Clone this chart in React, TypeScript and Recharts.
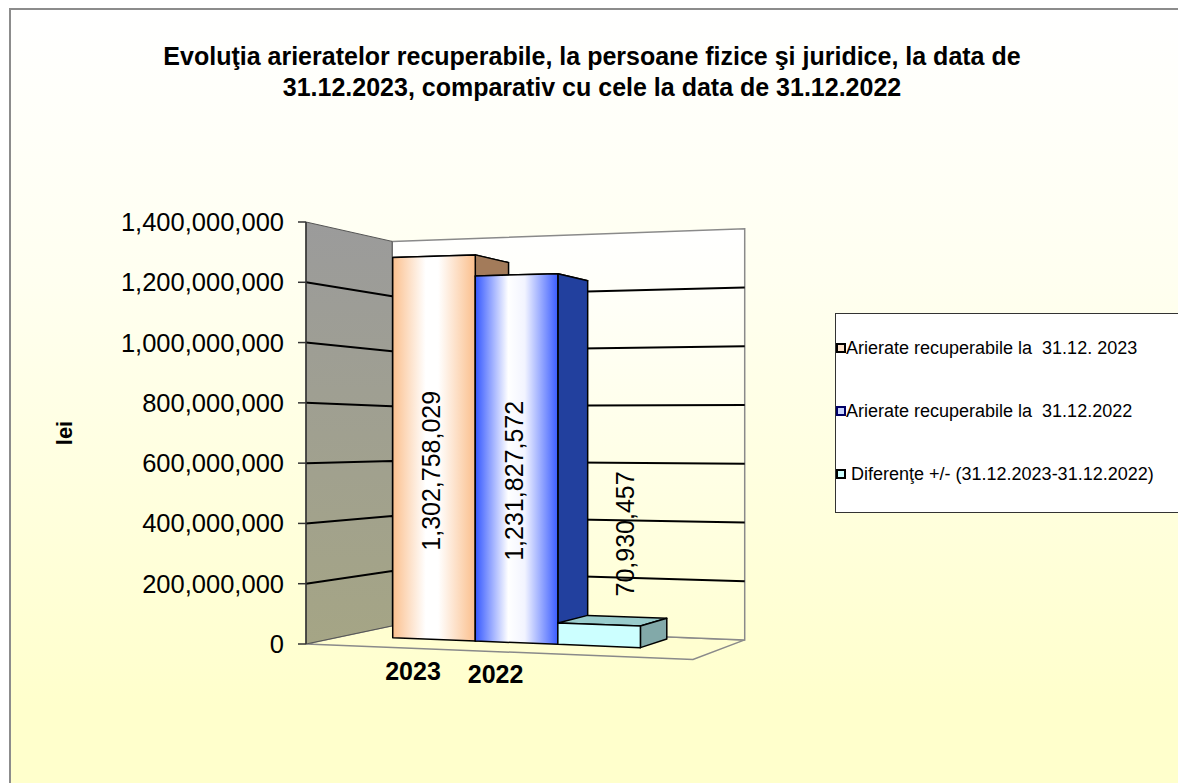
import React from "react";
import { Bar, BarChart, CartesianGrid, LabelList, Legend, XAxis, YAxis } from "recharts";

const categories = ["31.12"];
const seriesNames = [
  "Arierate recuperabile la  31.12. 2023",
  "Arierate recuperabile la  31.12.2022",
  " Diferenţe +/- (31.12.2023-31.12.2022)",
];
const arierate2023 = [1302758029];
const arierate2022 = [1231827572];
const diferente = [70930457];
const yearLabels = ["2023", "2022"];
const yTicks = [0, 200000000, 400000000, 600000000, 800000000, 1000000000, 1200000000, 1400000000];

const data = categories.map((name, i) => ({
  name,
  a2023: arierate2023[i],
  a2022: arierate2022[i],
  diff: diferente[i],
}));

const FONT = '"Liberation Sans", Arial, sans-serif';

// fake 3d: front plane tilts a little, depth runs to a vanishing point on the right
const VP_X = 1274;
const VP_Y = 440;
const HORIZON = 421;
const TILT = 0.000179;
const FRONT_X = 306;
const WALL_D = 0.089;
const BAR_D0 = 0.04;
const BAR_D1 = 0.08;
const FLOOR_EXTRA = 29;

function proj(fx: number, fy: number, d: number): [number, number] {
  const s = 1 + TILT * (fx - FRONT_X);
  const py = HORIZON + (fy - HORIZON) * s;
  return [fx + d * (VP_X - fx), py + d * (VP_Y - py)];
}

const pts = (list: [number, number][]) => list.map((p) => p.join(",")).join(" ");

function Walls({ x, y, width, height }: any) {
  const l = x;
  const r = x + width + FLOOR_EXTRA;
  const t = y;
  const b = y + height;
  const leftWall = [proj(l, t, 0), proj(l, t, WALL_D), proj(l, b, WALL_D), proj(l, b, 0)];
  const backWall = [proj(l, t, WALL_D), proj(r, t, WALL_D), proj(r, b, WALL_D), proj(l, b, WALL_D)];
  const floor = [proj(l, b, 0), proj(r, b, 0), proj(r, b, WALL_D), proj(l, b, WALL_D)];
  return (
    <g>
      <defs>
        <linearGradient id="leftWallFill" x1="0" y1="0" x2="0" y2="1">
          <stop offset="0%" stopColor="#9b9b9b" />
          <stop offset="100%" stopColor="#a5a585" />
        </linearGradient>
        <linearGradient id="backWallFill" x1="0" y1="0" x2="0" y2="1">
          <stop offset="0%" stopColor="#ffffff" />
          <stop offset="100%" stopColor="#ffffd4" />
        </linearGradient>
      </defs>
      <polygon points={pts(floor)} fill="#fffed0" stroke="#8a8a8a" strokeWidth={1.5} />
      <polygon points={pts(backWall)} fill="url(#backWallFill)" stroke="#8a8a8a" strokeWidth={1.5} />
      <polygon points={pts(leftWall)} fill="url(#leftWallFill)" stroke="#555" strokeWidth={1} />
    </g>
  );
}

const renderGridLine = (props: any) => {
  const { x, y, width, height, y1, index } = props;
  const l = x;
  const r = x + width + FLOOR_EXTRA;
  const edge = Math.abs(y1 - y) < 0.5 || Math.abs(y1 - (y + height)) < 0.5;
  const a = proj(l, y1, 0);
  const b = proj(l, y1, WALL_D);
  const c = proj(r, y1, WALL_D);
  return (
    <g key={`grid-${index}`}>
      {index === 0 && <Walls x={x} y={y} width={width} height={height} />}
      {!edge && <polyline points={pts([a, b, c])} fill="none" stroke="#000" strokeWidth={2} />}
    </g>
  );
};

type BoxStyle = {
  id: string;
  stops: [string, string][];
  top: string;
  side: string;
};

const makeBox = (st: BoxStyle) => (props: any) => {
  const { x, y, width, height } = props;
  const x2 = x + width;
  const y2 = y + height;
  const front = [proj(x, y, BAR_D0), proj(x2, y, BAR_D0), proj(x2, y2, BAR_D0), proj(x, y2, BAR_D0)];
  const side = [proj(x2, y, BAR_D0), proj(x2, y, BAR_D1), proj(x2, y2, BAR_D1), proj(x2, y2, BAR_D0)];
  const top = [proj(x, y, BAR_D0), proj(x2, y, BAR_D0), proj(x2, y, BAR_D1), proj(x, y, BAR_D1)];
  return (
    <g>
      <defs>
        <linearGradient id={st.id} x1="0" y1="0" x2="1" y2="0">
          {st.stops.map(([o, c]) => (
            <stop key={o} offset={o} stopColor={c} />
          ))}
        </linearGradient>
      </defs>
      <polygon points={pts(top)} fill={st.top} stroke="#000" strokeWidth={1.5} strokeLinejoin="round" />
      <polygon points={pts(side)} fill={st.side} stroke="#000" strokeWidth={1.5} strokeLinejoin="round" />
      <polygon points={pts(front)} fill={`url(#${st.id})`} stroke="#000" strokeWidth={1.5} strokeLinejoin="round" />
    </g>
  );
};

const box2023 = makeBox({
  id: "g2023",
  stops: [["0%", "#fbc08e"], ["40%", "#ffffff"], ["55%", "#ffffff"], ["100%", "#fbbf8c"]],
  top: "#f4c4a0",
  side: "#a37b5a",
});
const box2022 = makeBox({
  id: "g2022",
  stops: [["0%", "#3558ff"], ["40%", "#ffffff"], ["60%", "#f2f4ff"], ["100%", "#3a5cff"]],
  top: "#6f86e0",
  side: "#22409e",
});
const boxDiff = makeBox({
  id: "gdiff",
  stops: [["0%", "#ccffff"], ["100%", "#ccffff"]],
  top: "#99cccc",
  side: "#82a9a9",
});

const fmt = (v: number) => v.toLocaleString("en-US");

const insideLabel = (props: any) => {
  const { x, y, width, height, value } = props;
  const [cx, cyTop] = proj(x + width / 2, y, BAR_D0);
  const [, cyBot] = proj(x + width / 2, y + height, BAR_D0);
  const cy = cyBot - (cyBot - cyTop) * 0.44;
  const lx = cx - 3;
  return (
    <text
      x={lx}
      y={cy}
      transform={`rotate(-90 ${lx} ${cy})`}
      textAnchor="middle"
      dominantBaseline="central"
      fontFamily={FONT}
      fontSize={25}
      fill="#000"
    >
      {fmt(value)}
    </text>
  );
};

const aboveLabel = (props: any) => {
  const { x, y, width, value } = props;
  const [cx, cy] = proj(x + width / 2, y, BAR_D0);
  const lx = cx + 26;
  const ly = cy - 28;
  return (
    <text
      x={lx}
      y={ly}
      transform={`rotate(-90 ${lx} ${ly})`}
      textAnchor="start"
      dominantBaseline="central"
      fontFamily={FONT}
      fontSize={25}
      fill="#000"
    >
      {fmt(value)}
    </text>
  );
};

const yearLabel = (label: string, dy: number) => (props: any) => {
  const { x, y, width, height } = props;
  const [cx, cy] = proj(x + width / 2, y + height, BAR_D0);
  return (
    <text x={cx - 21} y={cy + dy} textAnchor="middle" fontFamily={FONT} fontWeight="bold" fontSize={25} fill="#000">
      {label}
    </text>
  );
};

const legendMarkers = ["#fde2c8", "#c8d4ff", "#ccffff"];
const legendMarkerBorders = ["#000", "#000066", "#000"];

const renderLegend = (props: any) => {
  const payload: any[] = props.payload || [];
  const items = seriesNames.map((name) => payload.find((p) => p.value === name) || { value: name });
  return (
    <div
      style={{
        position: "relative",
        boxSizing: "border-box",
        width: 360,
        height: 200,
        background: "#ffffff",
        border: "1.5px solid #333",
        fontFamily: FONT,
        fontSize: 18,
        color: "#000",
      }}
    >
      {items.map((entry: any, i: number) => (
        <div
          key={entry.value}
          style={{
            position: "absolute",
            left: 0,
            top: 23 + i * 63,
            height: 22,
            display: "flex",
            alignItems: "center",
            whiteSpace: "pre",
          }}
        >
          <span
            style={{
              display: "inline-block",
              boxSizing: "border-box",
              width: 10,
              height: 10,
              border: `2px solid ${legendMarkerBorders[i]}`,
              background: legendMarkers[i],
              marginRight: 0,
            }}
          />
          {entry.value}
        </div>
      ))}
    </div>
  );
};

export default function App() {
  return (
    <div style={{ position: "absolute", left: 0, top: 0, width: 1178, height: 783, overflow: "hidden", fontFamily: FONT }}>
      <div
        style={{
          position: "absolute",
          left: 9,
          top: 8,
          width: 1300,
          height: 775,
          borderLeft: "2px solid #8c8c8c",
          borderTop: "2px solid #8c8c8c",
          background: "linear-gradient(#ffffff 0%, #fffff0 35%, #ffffcc 90%)",
        }}
      />
      <div
        style={{
          position: "absolute",
          left: 0,
          top: 41,
          width: 1184,
          textAlign: "center",
          fontWeight: "bold",
          fontSize: 25,
          lineHeight: "31px",
          color: "#000",
        }}
      >
        Evoluţia arieratelor recuperabile, la persoane fizice şi juridice, la data de
        <br />
        31.12.2023, comparativ cu cele la data de 31.12.2022
      </div>
      <div style={{ position: "absolute", left: 0, top: 0 }}>
        <BarChart
          width={1178}
          height={783}
          data={data}
          margin={{ top: 222, right: 514, bottom: 139, left: 0 }}
          barGap={0}
          barSize={86}
        >
          <CartesianGrid vertical={false} horizontal={renderGridLine} />
          <XAxis dataKey="name" hide />
          <YAxis
            width={306}
            domain={[0, 1400000000]}
            ticks={yTicks}
            interval={0}
            tickFormatter={fmt}
            tickSize={8}
            tickMargin={14}
            tick={{ fontSize: 25.5, fill: "#000", fontFamily: FONT }}
            axisLine={{ stroke: "#333", strokeWidth: 1.5 }}
            tickLine={{ stroke: "#333", strokeWidth: 1.5 }}
            label={(p: any) => {
              const vb = p.viewBox || {};
              const cx = 64;
              const cy = (vb.y || 222) + (vb.height || 422) / 2;
              return (
                <text
                  x={cx}
                  y={cy}
                  transform={`rotate(-90 ${cx} ${cy})`}
                  textAnchor="middle"
                  dominantBaseline="central"
                  fontFamily={FONT}
                  fontWeight="bold"
                  fontSize={22}
                  fill="#000"
                >
                  lei
                </text>
              );
            }}
          />
          <Legend
            layout="horizontal"
            verticalAlign="middle"
            align="center"
            content={renderLegend}
            wrapperStyle={{ left: 835, top: 313, width: 360, height: 200 }}
          />
          <Bar dataKey="a2023" name={seriesNames[0]} fill={legendMarkers[0]} shape={box2023} isAnimationActive={false}>
            <LabelList dataKey="a2023" content={insideLabel} />
            <LabelList dataKey="a2023" content={yearLabel(yearLabels[0], 41)} />
          </Bar>
          <Bar dataKey="a2022" name={seriesNames[1]} fill={legendMarkers[1]} shape={box2022} isAnimationActive={false}>
            <LabelList dataKey="a2022" content={insideLabel} />
            <LabelList dataKey="a2022" content={yearLabel(yearLabels[1], 40)} />
          </Bar>
          <Bar dataKey="diff" name={seriesNames[2]} fill={legendMarkers[2]} shape={boxDiff} isAnimationActive={false}>
            <LabelList dataKey="diff" content={aboveLabel} />
          </Bar>
        </BarChart>
      </div>
    </div>
  );
}
